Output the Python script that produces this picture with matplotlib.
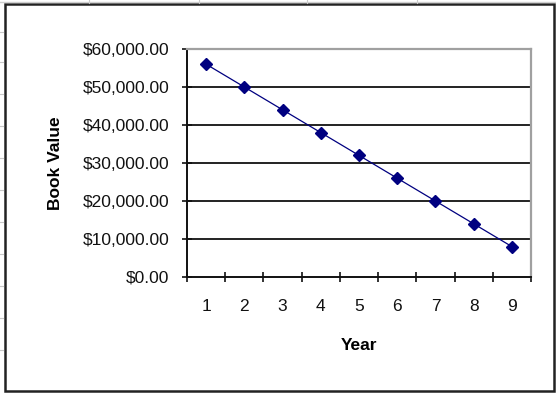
import matplotlib
matplotlib.use("Agg")
import matplotlib.pyplot as plt
from matplotlib.lines import Line2D
from matplotlib.patches import Rectangle
from matplotlib.ticker import FuncFormatter, FixedLocator

years = [1, 2, 3, 4, 5, 6, 7, 8, 9]
book_value = [56000, 50000, 44000, 38000, 32000, 26000, 20000, 14000, 8000]
y_ticks = [0, 10000, 20000, 30000, 40000, 50000, 60000]

plt.rcParams['font.family'] = ['Liberation Sans', 'DejaVu Sans']

W, H = 556, 393
fig = plt.figure(figsize=(W / 100, H / 100), dpi=100)
fig.patch.set_facecolor('white')

# faint worksheet cell lines behind the chart object
for xv in [89, 199, 307, 417]:
    fig.add_artist(Line2D([xv / W, xv / W], [1 - 0 / H, 1 - 3 / H], transform=fig.transFigure,
                          color='#c8c8c8', lw=0.8))
fig.add_artist(Line2D([0, 1], [1 - 1.5 / H, 1 - 1.5 / H], transform=fig.transFigure,
                      color='#d0d0d0', lw=1.0))
for yv in [32, 62, 94, 126, 158, 190, 222, 254, 286, 318, 350]:
    fig.add_artist(Line2D([0, 3 / W], [1 - yv / H, 1 - yv / H], transform=fig.transFigure,
                          color='#c8c8c8', lw=0.8))

# chart object border
fig.add_artist(Rectangle((4.5 / W, 1 - 391 / H), 549.5 / W, (391 - 4) / H,
                         transform=fig.transFigure, fill=False,
                         edgecolor='#222222', lw=1.8))

left, right, top, bottom = 187, 531, 49, 277
ax = fig.add_axes([left / W, 1 - bottom / H, (right - left) / W, (bottom - top) / H])

ax.set_xlim(0.5, 9.5)
ax.set_ylim(0, 60000)

for v in y_ticks[1:]:
    ax.axhline(v, color='#111111', lw=1.3, zorder=1)

ax.plot(years, book_value, color='#000080', lw=0.9, marker='D', markersize=6,
        markerfacecolor='#000080', markeredgecolor='#000080', zorder=3)

ax.yaxis.set_major_locator(FixedLocator(y_ticks))
ax.yaxis.set_major_formatter(FuncFormatter(lambda v, p: f"${v:,.2f}"))
ax.xaxis.set_major_locator(FixedLocator(years))
ax.xaxis.set_minor_locator(FixedLocator([y + 0.5 for y in [0] + years]))

ax.tick_params(axis='y', which='major', direction='inout', length=7, width=1.2,
               colors='#111111', labelsize=12.5, pad=9)
ax.tick_params(axis='x', which='major', length=0, labelsize=12.5, pad=16,
               colors='#111111')
ax.tick_params(axis='x', which='minor', direction='inout', length=7, width=1.2,
               color='#111111')

for s in ['left', 'bottom']:
    ax.spines[s].set_color('#111111')
    ax.spines[s].set_linewidth(1.4)
for s in ['top', 'right']:
    ax.spines[s].set_color('#a0a0a0')
    ax.spines[s].set_linewidth(1.6)

ax.set_ylabel('Book Value', fontsize=12.5, fontweight='bold', labelpad=14)
ax.set_xlabel('Year', fontsize=12.5, fontweight='bold', labelpad=17)

fig.savefig('out.png', dpi=100)
